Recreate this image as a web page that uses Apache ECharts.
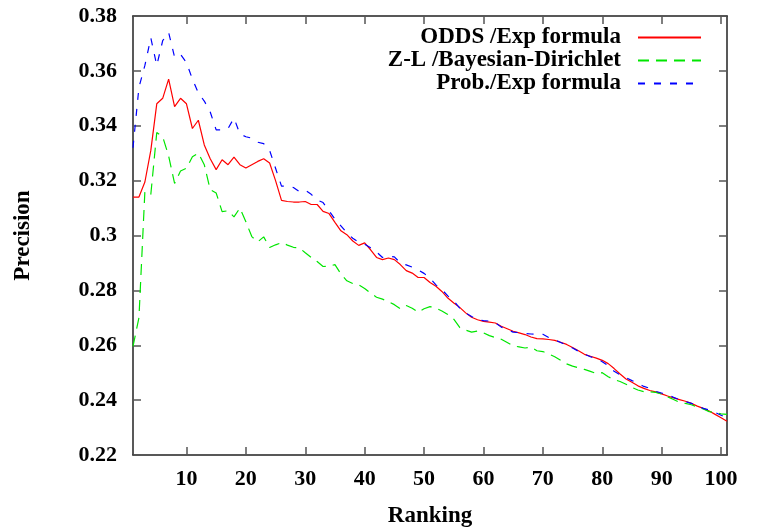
<!DOCTYPE html>
<html lang="en">
<head>
    <meta charset="UTF-8">
    <title>Precision / Ranking</title>
</head>
<script type="text/javascript" src="https://cdn.jsdelivr.net/npm/echarts@6/dist/echarts.min.js"></script>
<body style="margin:0;background:#fff;">
<div id="precisionChart" style="width:771px;height:528px;"></div>
</body>
<script type="text/javascript">
    // rank 1..101 on the x axis, one value per rank
    var firstRank = 1;
    var xTicks = [10, 20, 30, 40, 50, 60, 70, 80, 90, 100];
    var yTicks = [0.22, 0.24, 0.26, 0.28, 0.3, 0.32, 0.34, 0.36, 0.38];

    var oddsExp = [
        0.314, 0.314, 0.3195, 0.331, 0.348, 0.350, 0.357, 0.347, 0.350, 0.348,
        0.339, 0.342, 0.333, 0.328, 0.324, 0.3276, 0.3258, 0.3286, 0.3258, 0.3246,
        0.3258, 0.327, 0.328, 0.3264, 0.320, 0.3128, 0.3124, 0.3122, 0.3122, 0.3124,
        0.3113, 0.3113, 0.3088, 0.308, 0.3048, 0.3017, 0.3003, 0.298, 0.2964, 0.2973,
        0.2948, 0.292, 0.2912, 0.2918, 0.2912, 0.2894, 0.2872, 0.2863, 0.2847, 0.2847,
        0.2829, 0.2815, 0.2796, 0.2772, 0.2754, 0.2738, 0.2718, 0.2702, 0.2693, 0.2687,
        0.2684, 0.2681, 0.2669, 0.2660, 0.2651, 0.2645, 0.2639, 0.263, 0.2624, 0.2623,
        0.2621, 0.2618, 0.2611, 0.2603, 0.2592, 0.2580, 0.2567, 0.2560, 0.2553, 0.2545,
        0.2533, 0.2515, 0.2495, 0.2477, 0.2465, 0.2452, 0.2443, 0.2435, 0.2430, 0.2423,
        0.2415, 0.2408, 0.2402, 0.2396, 0.2388, 0.2378, 0.2370, 0.2360, 0.2348, 0.2336,
        0.2323
    ];
    var zlBayes = [
        0.2596, 0.270, 0.316, 0.315, 0.3375, 0.336, 0.329, 0.319, 0.3235, 0.3245,
        0.3287, 0.330, 0.3258, 0.3167, 0.3155, 0.3087, 0.309, 0.3068, 0.310, 0.305,
        0.2996, 0.2977, 0.2995, 0.2956, 0.2966, 0.2974, 0.2965, 0.2957, 0.2955, 0.2937,
        0.292, 0.2905, 0.2887, 0.2888, 0.2894, 0.286, 0.2835, 0.2825, 0.282, 0.2807,
        0.279, 0.2775, 0.2768, 0.2759, 0.2748, 0.2733, 0.2745, 0.2735, 0.272, 0.2733,
        0.2741, 0.2735, 0.2725, 0.2712, 0.2695, 0.2665, 0.2655, 0.2648, 0.2652, 0.2645,
        0.2635, 0.2628, 0.2622, 0.261, 0.2598, 0.2594, 0.259, 0.2593, 0.258, 0.2577,
        0.2568, 0.2558, 0.2545, 0.2532, 0.2524, 0.2518, 0.2512, 0.2505, 0.2497, 0.2500,
        0.2485, 0.2475, 0.2468, 0.2458, 0.2446, 0.2437, 0.2431, 0.2430, 0.2428, 0.2422,
        0.2412, 0.2402, 0.2392, 0.2388, 0.2383, 0.2375, 0.2368, 0.2358, 0.2354, 0.2350,
        0.2348
    ];
    var probExp = [
        0.332, 0.354, 0.362, 0.372, 0.362, 0.371, 0.374, 0.365, 0.366, 0.363,
        0.357, 0.352, 0.349, 0.345, 0.3385, 0.3385, 0.339, 0.3428, 0.337, 0.336,
        0.3355, 0.334, 0.3335, 0.331, 0.3245, 0.318, 0.318, 0.3175, 0.316, 0.3165,
        0.315, 0.313, 0.312, 0.309, 0.306, 0.3035, 0.301, 0.299, 0.2975, 0.2968,
        0.2955, 0.294, 0.292, 0.2925, 0.2922, 0.290, 0.2893, 0.2885, 0.2875, 0.2862,
        0.2845, 0.282, 0.2803, 0.278, 0.2762, 0.2735, 0.2718, 0.2705, 0.2693, 0.269,
        0.2688, 0.2682, 0.2666, 0.2657, 0.2648, 0.2646, 0.2643, 0.2641, 0.264, 0.264,
        0.2628, 0.262, 0.261, 0.2600, 0.259, 0.2578, 0.2568, 0.2558, 0.2552, 0.254,
        0.2525, 0.2505, 0.2492, 0.2482, 0.2471, 0.2462, 0.2450, 0.2443, 0.2432, 0.2426,
        0.2421, 0.241, 0.2402, 0.2395, 0.2388, 0.2380, 0.2370, 0.2364, 0.2355, 0.2345,
        0.2336
    ];

    function withRank(values) {
        return values.map(function (v, i) { return [firstRank + i, v]; });
    }

    var font = '"Liberation Serif", "Times New Roman", serif';
    var myChart = echarts.init(document.getElementById('precisionChart'));

    var boxAxisLine = {show: true, lineStyle: {color: '#222', width: 1.5}};
    var boxTick = {show: true, inside: true, length: 8, lineStyle: {color: '#555', width: 1.5}};
    var labelFont = {fontFamily: font, fontWeight: 'bold', fontSize: 22, color: '#000'};
    var nameFont = {fontFamily: font, fontWeight: 'bold', fontSize: 23, color: '#000'};

    option = {
        animation: false,
        backgroundColor: '#fff',
        // keep the plot box fixed, labels may sit close to the edge
        grid: {left: 133, right: 44, top: 16, bottom: 73, outerBoundsMode: 'none', containLabel: false},
        legend: {
            orient: 'vertical',
            right: 64,
            top: 21,
            align: 'right',
            itemWidth: 63,
            itemHeight: 12,
            itemGap: 0,
            // hide the dot that ECharts puts on line legend icons
            itemStyle: {opacity: 0},
            textStyle: {
                fontFamily: font,
                fontWeight: 'bold',
                fontSize: 23,
                lineHeight: 23,
                color: '#000',
                padding: [0, 12, 0, 0]
            },
            data: ['ODDS /Exp formula', 'Z-L /Bayesian-Dirichlet', 'Prob./Exp formula']
        },
        xAxis: [
            {
                type: 'value', min: 1, max: 101,
                name: 'Ranking', nameLocation: 'middle', nameGap: 50,
                nameTextStyle: nameFont,
                axisLine: boxAxisLine,
                axisTick: Object.assign({customValues: xTicks}, boxTick),
                axisLabel: Object.assign({customValues: xTicks, margin: 13}, labelFont),
                splitLine: {show: false}
            },
            {
                type: 'value', min: 1, max: 101, position: 'top',
                axisLine: boxAxisLine,
                axisTick: Object.assign({customValues: xTicks}, boxTick),
                axisLabel: {show: false},
                splitLine: {show: false}
            }
        ],
        yAxis: [
            {
                type: 'value', min: 0.22, max: 0.38, interval: 0.02,
                name: 'Precision', nameLocation: 'middle', nameGap: 98,
                nameTextStyle: nameFont,
                axisLine: boxAxisLine,
                axisTick: boxTick,
                axisLabel: Object.assign({margin: 16}, labelFont),
                splitLine: {show: false}
            },
            {
                type: 'value', min: 0.22, max: 0.38, interval: 0.02, position: 'right',
                axisLine: boxAxisLine,
                axisTick: boxTick,
                axisLabel: {show: false},
                splitLine: {show: false}
            }
        ],
        series: [
            {
                name: 'ODDS /Exp formula', type: 'line', symbol: 'none',
                itemStyle: {color: '#ff0000'},
                lineStyle: {color: '#ff0000', width: 1.2},
                data: withRank(oddsExp)
            },
            {
                name: 'Z-L /Bayesian-Dirichlet', type: 'line', symbol: 'none',
                itemStyle: {color: '#00e600'},
                lineStyle: {color: '#00e600', width: 1.2, type: [11, 7]},
                data: withRank(zlBayes)
            },
            {
                name: 'Prob./Exp formula', type: 'line', symbol: 'none',
                itemStyle: {color: '#0000ff'},
                lineStyle: {color: '#0000ff', width: 1.2, type: [7, 9]},
                data: withRank(probExp)
            }
        ]
    };
    myChart.setOption(option, true);
</script>
</html>
